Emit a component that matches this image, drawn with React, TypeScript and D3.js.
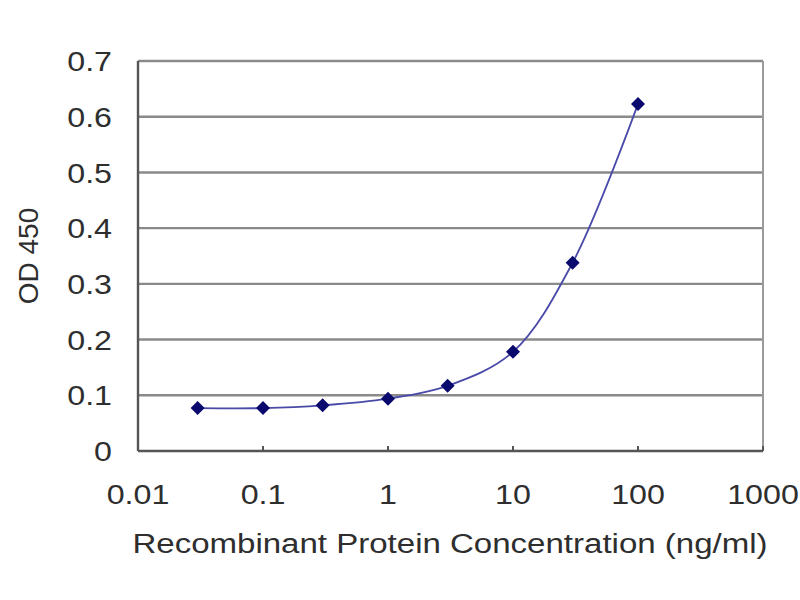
import React from "react";
import * as d3 from "d3";

const concentrations = [0.03, 0.1, 0.3, 1, 3, 10, 30, 100];
const odValues = [0.077, 0.077, 0.082, 0.094, 0.117, 0.178, 0.338, 0.623];
const xTicks = [0.01, 0.1, 1, 10, 100, 1000];
const xTickLabels = ["0.01", "0.1", "1", "10", "100", "1000"];
const yTicks = [0, 0.1, 0.2, 0.3, 0.4, 0.5, 0.6, 0.7];
const yTickLabels = ["0", "0.1", "0.2", "0.3", "0.4", "0.5", "0.6", "0.7"];

const W = 800, H = 600;
const left = 138, right = 763, top = 61, bottom = 451;

export default function App() {
  const x = d3.scaleLog().domain([0.01, 1000]).range([left, right]);
  const y = d3.scaleLinear().domain([0, 0.7]).range([bottom, top]);
  const line = d3
    .line<number>()
    .x((_, i) => x(concentrations[i]))
    .y((d) => y(d))
    .curve(d3.curveCatmullRom.alpha(0.5));
  const font = "'Liberation Sans', Arial, sans-serif";
  const textColor = "#2e2e2e";
  const fs = 28;
  const sx = 1.15;
  return (
    <svg width={W} height={H} style={{ position: "absolute", left: 0, top: 0, background: "#fff" }}>
      <rect x={0} y={0} width={W} height={H} fill="#fff" />
      {yTicks.slice(1).map((t) => (
        <line key={t} x1={left} x2={right} y1={y(t)} y2={y(t)} stroke="#8a8a8a" strokeWidth={2.4} />
      ))}
      <line x1={right} x2={right} y1={top} y2={bottom} stroke="#9a9a9a" strokeWidth={2} />
      <line x1={left} x2={left} y1={top} y2={bottom} stroke="#555" strokeWidth={2.4} />
      <line x1={left} x2={right} y1={bottom} y2={bottom} stroke="#555" strokeWidth={2.4} />
      {xTicks.map((t) => (
        <line key={t} x1={x(t)} x2={x(t)} y1={bottom} y2={bottom - 5} stroke="#555" strokeWidth={2} />
      ))}
      {yTicks.map((t, i) => (
        <text
          key={t}
          transform={`translate(112,${y(t)}) scale(${sx},1)`}
          dy="0.36em"
          textAnchor="end"
          fontFamily={font}
          fontSize={fs}
          fill={textColor}
        >
          {yTickLabels[i]}
        </text>
      ))}
      {xTicks.map((t, i) => (
        <text
          key={t}
          transform={`translate(${x(t)},504) scale(${sx},1)`}
          textAnchor="middle"
          fontFamily={font}
          fontSize={fs}
          fill={textColor}
        >
          {xTickLabels[i]}
        </text>
      ))}
      <text
        transform={`translate(450,553) scale(1.18,1)`}
        textAnchor="middle"
        fontFamily={font}
        fontSize={fs}
        fill={textColor}
      >
        Recombinant Protein Concentration (ng/ml)
      </text>
      <text
        transform={`translate(38,256) rotate(-90)`}
        textAnchor="middle"
        fontFamily={font}
        fontSize={fs}
        fill={textColor}
      >
        OD 450
      </text>
      <path d={line(odValues) || ""} fill="none" stroke="#4a4aa8" strokeWidth={1.8} />
      {odValues.map((v, i) => {
        const cx = x(concentrations[i]);
        const cy = y(v);
        const s = 7;
        return (
          <path
            key={i}
            d={`M${cx},${cy - s}L${cx + s},${cy}L${cx},${cy + s}L${cx - s},${cy}Z`}
            fill="#0a0a6e"
          />
        );
      })}
    </svg>
  );
}
